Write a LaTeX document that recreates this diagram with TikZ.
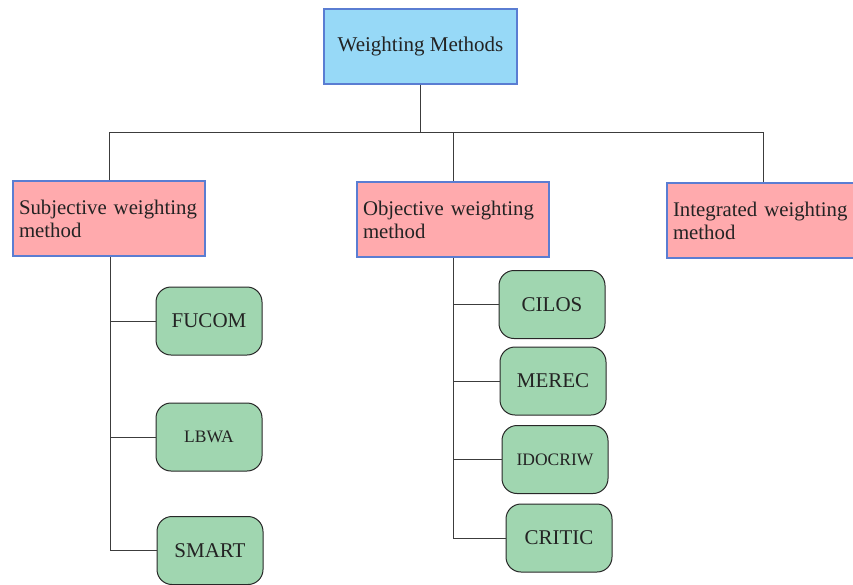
\documentclass[tikz,border=0pt]{standalone}
\usepackage{fontspec}
\setmainfont{Liberation Serif}
\definecolor{topfill}{RGB}{151,217,247}
\definecolor{catfill}{RGB}{255,170,173}
\definecolor{methfill}{RGB}{160,214,176}
\definecolor{bordblue}{RGB}{90,125,210}
\definecolor{methdraw}{RGB}{40,40,40}
\definecolor{linec}{RGB}{60,60,60}
\definecolor{txt}{RGB}{35,35,35}
\begin{document}
\begin{tikzpicture}[x=1pt,y=-1pt,
  base/.style={draw, line width=1.2pt, text=txt},
  topbox/.style={base, draw=bordblue, fill=topfill, minimum width=193pt, minimum height=75pt, font=\fontsize{21}{25}\selectfont},
  catbox/.style={base, draw=bordblue, fill=catfill, minimum width=192pt, minimum height=75pt, text width=180pt, inner xsep=6pt, align=left, font=\fontsize{20.8}{23}\selectfont},
  methbox/.style={base, line width=1pt, draw=methdraw, fill=methfill, rounded corners=15pt, minimum width=106pt, minimum height=68pt, font=\fontsize{21}{25}\selectfont},
  smalltext/.style={font=\fontsize{17.5}{21}\selectfont},
  link/.style={draw=linec, line width=1pt}]
\useasboundingbox (0,0) rectangle (853,584);

\node[topbox] (wm) at (420.5,46.5) {Weighting Methods};
\node[catbox] (sub) at (109,218.5) {Subjective weighting\\method};
\node[catbox] (obj) at (453,219.5) {Objective weighting\\method};
\node[catbox] (int) at (763,220.5) {Integrated weighting\\method};

\node[methbox] (fucom) at (209,321) {FUCOM};
\node[methbox, smalltext] (lbwa) at (209,437) {LBWA};
\node[methbox] (smart) at (210,550.5) {SMART};
\node[methbox] (cilos) at (552,304.5) {CILOS};
\node[methbox] (merec) at (553,381) {MEREC};
\node[methbox, smalltext] (idoc) at (555,459.5) {IDOCRIW};
\node[methbox] (critic) at (559,538) {CRITIC};

\path (wm.south) ++(0,47.5) coordinate (hub);
\draw[link] (wm.south) -- (hub);
\draw[link] (sub.north) |- (hub) -| (int.north);
\draw[link] (obj.north |- hub) -- (obj.north);

\coordinate (lt) at (110,256);
\draw[link] (sub.south -| lt) -- (lt |- smart.west) -- (smart.west);
\draw[link] (lt |- fucom.west) -- (fucom.west);
\draw[link] (lt |- lbwa.west) -- (lbwa.west);

\draw[link] (obj.south) |- (critic.west);
\draw[link] (obj.south |- cilos.west) -- (cilos.west);
\draw[link] (obj.south |- merec.west) -- (merec.west);
\draw[link] (obj.south |- idoc.west) -- (idoc.west);
\end{tikzpicture}
\end{document}
